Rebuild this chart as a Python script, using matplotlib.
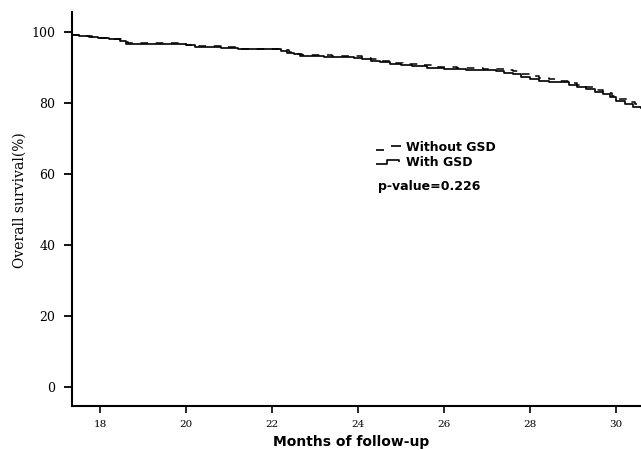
import numpy as np
import matplotlib
matplotlib.use("Agg")
import matplotlib.pyplot as plt
from matplotlib.lines import Line2D
from matplotlib.legend_handler import HandlerBase

# Kaplan-Meier curves (months, survival %)
months_with = [17.34, 17.5, 17.75, 17.95, 18.2, 18.45, 18.6, 20.0, 20.2, 20.8,
               21.2, 22.2, 22.35, 22.5, 22.65, 23.2, 23.9, 24.1, 24.3, 24.5,
               24.75, 25.0, 25.25, 25.6, 26.0, 26.5, 27.2, 27.4, 27.6, 27.8,
               28.0, 28.2, 28.45, 28.9, 29.1, 29.3, 29.5, 29.7, 29.85, 30.0,
               30.2, 30.4, 30.58]
surv_with = [99.2, 98.9, 98.6, 98.2, 97.9, 97.3, 96.6, 96.2, 95.8, 95.5,
             95.1, 94.6, 94.0, 93.6, 93.2, 93.0, 92.7, 92.3, 91.8, 91.4,
             91.0, 90.6, 90.2, 89.7, 89.4, 89.2, 89.0, 88.5, 88.0, 87.3,
             86.6, 86.1, 85.7, 85.0, 84.4, 83.8, 83.1, 82.4, 81.6, 80.4,
             79.5, 78.9, 78.4]

months_without = [17.34, 17.55, 17.8, 18.0, 18.3, 18.5, 18.65, 20.0, 20.3, 20.9,
                  21.2, 22.25, 22.4, 22.55, 22.7, 23.4, 24.1, 24.3, 24.55, 24.8,
                  25.05, 25.4, 25.8, 26.3, 26.9, 27.4, 27.6, 27.8, 28.0, 28.2,
                  28.45, 28.7, 28.9, 29.1, 29.3, 29.5, 29.7, 29.9, 30.05, 30.25,
                  30.45, 30.58]
surv_without = [99.2, 98.9, 98.5, 98.2, 97.8, 97.2, 96.7, 96.3, 95.9, 95.6,
                95.2, 94.7, 94.2, 93.8, 93.4, 93.2, 92.6, 92.2, 91.7, 91.3,
                90.9, 90.5, 90.1, 89.9, 89.6, 89.2, 88.8, 88.2, 87.5, 87.0,
                86.6, 86.1, 85.6, 84.9, 84.3, 83.6, 82.8, 81.9, 81.0, 80.2,
                79.6, 79.3]

x_ticks = [18, 20, 22, 24, 26, 28, 30]
y_ticks = [0, 20, 40, 60, 80, 100]
p_text = "p-value=0.226"


class GlyphHandler(HandlerBase):
    """small legend glyph drawn from relative coords"""
    def __init__(self, xs, ys):
        super().__init__()
        self.xs = np.array(xs)
        self.ys = np.array(ys)

    def create_artists(self, legend, orig_handle, xdescent, ydescent,
                       width, height, fontsize, trans):
        ln = Line2D(-xdescent + width * self.xs, -ydescent + height * self.ys,
                    color="black", lw=1.2, solid_capstyle="butt")
        ln.set_transform(trans)
        return [ln]


fig = plt.figure(figsize=(6.41, 4.5), dpi=100)
ax = fig.add_axes([0.112, 0.098, 0.888, 0.875])

ax.step(months_without, surv_without, where="post", color="black", lw=1.1,
        dashes=(5, 5), label="Without GSD")
ax.step(months_with, surv_with, where="post", color="black", lw=1.2,
        label="With GSD")

ax.set_xlim(17.34, 30.58)
ax.set_ylim(-5.4, 105.5)
ax.set_xticks(x_ticks)
ax.set_yticks(y_ticks)

for s in ["top", "right"]:
    ax.spines[s].set_visible(False)
for s in ["left", "bottom"]:
    ax.spines[s].set_linewidth(1.5)

ax.tick_params(axis="y", direction="out", length=6, width=1.3, labelsize=9,
               pad=6)
ax.tick_params(axis="x", direction="out", length=5, width=1.2, labelsize=7.5,
               pad=5)
for lab in ax.get_xticklabels() + ax.get_yticklabels():
    lab.set_family("DejaVu Serif")

ax.set_ylabel("Overall survival(%)", family="DejaVu Serif", fontsize=10)
ax.yaxis.set_label_coords(-0.08, 0.523)
ax.set_xlabel("Months of follow-up", family="DejaVu Sans", fontsize=10,
              fontweight="bold")
ax.xaxis.set_label_coords(0.49, -0.075)

h_dash = Line2D([], [], color="black")
h_step = Line2D([], [], color="black")
leg = ax.legend([h_dash, h_step], ["Without GSD", "With GSD"],
                handler_map={
                    h_dash: GlyphHandler([0.0, 0.35, np.nan, 0.6, 1.0],
                                         [0.2, 0.2, np.nan, 0.65, 0.65]),
                    h_step: GlyphHandler([0.0, 0.45, 0.45, 0.95, 0.95],
                                         [0.15, 0.15, 0.6, 0.6, 0.35]),
                },
                loc="upper left", bbox_to_anchor=(0.534, 0.672), frameon=False,
                handlelength=2.0, handletextpad=0.4, labelspacing=0.1,
                borderpad=0.0, borderaxespad=0.0,
                prop={"family": "DejaVu Sans", "weight": "bold", "size": 9})

ax.text(0.538, 0.558, p_text, transform=ax.transAxes, family="DejaVu Sans",
        fontweight="bold", fontsize=9, ha="left", va="center")

fig.savefig("out.png", dpi=100)
